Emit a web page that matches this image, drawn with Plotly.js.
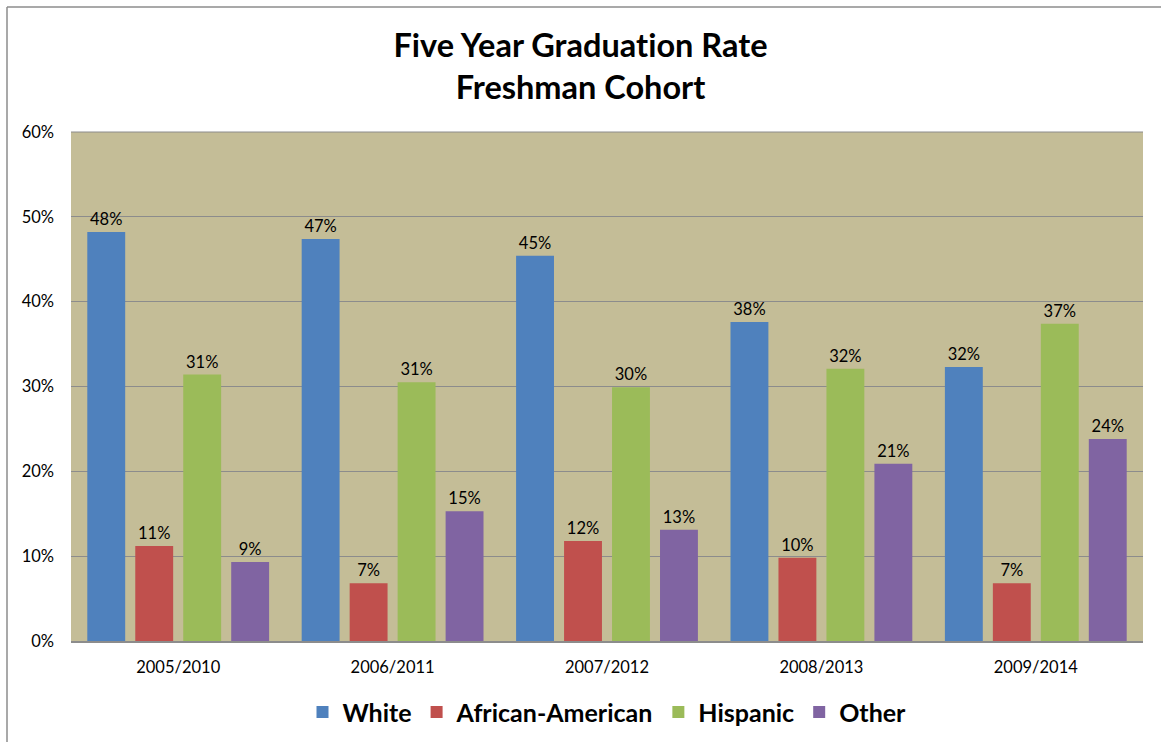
<!DOCTYPE html>
<html>
<head>
<meta charset="utf-8">
<script src="https://cdn.plot.ly/plotly-3.0.1.min.js"></script>
<style>html,body{margin:0;padding:0;background:#fff;}#chart{width:1161px;height:742px;} text{font-variant-ligatures:none !important;}</style>
</head>
<body>
<div id="chart"></div>
<script>
const cohorts = ['2005/2010', '2006/2011', '2007/2012', '2008/2013', '2009/2014'];
const white = [48.2, 47.4, 45.4, 37.6, 32.3];
const africanAmerican = [11.2, 6.8, 11.8, 9.8, 6.8];
const hispanic = [31.4, 30.5, 29.9, 32.1, 37.4];
const other = [9.3, 15.3, 13.1, 20.9, 23.8];
const seriesNames = ['White', 'African-American', 'Hispanic', 'Other'];
const yTickVals = [0, 10, 20, 30, 40, 50, 60];

const colors = ['#4F81BD', '#C0504D', '#9BBB59', '#8064A2'];
const seriesData = [white, africanAmerican, hispanic, other];
const FONT = 'Lato, "Open Sans", sans-serif';

const traces = seriesData.map((vals, i) => ({
  type: 'bar',
  name: seriesNames[i],
  x: cohorts,
  y: vals,
  text: vals.map(v => Math.round(v) + '%'),
  textposition: 'outside',
  textfont: {family: FONT, size: 16.5, color: '#000'},
  cliponaxis: false,
  marker: {color: colors[i]},
  hoverinfo: 'x+y+name'
}));

const layout = {
  width: 1161, height: 742,
  margin: {l: 71, r: 18, t: 132, b: 101},
  paper_bgcolor: '#ffffff',
  plot_bgcolor: '#C4BD97',
  barmode: 'group',
  bargap: 0.105,
  bargroupgap: 0.21,
  title: {
    text: '<b>Five Year Graduation Rate<br>Freshman Cohort</b>',
    font: {family: FONT, size: 32.5, color: '#000'},
    x: 0.5, xanchor: 'center',
    yref: 'container', y: 0.923, yanchor: 'top'
  },
  xaxis: {
    type: 'category',
    tickfont: {family: FONT, size: 16.5, color: '#000'},
    showgrid: false,
    showline: true, linecolor: '#8c8c8c', linewidth: 2,
    ticks: '', ticklen: 0,
    ticklabelstandoff: 10,
    automargin: false
  },
  yaxis: {
    range: [0, 60],
    tickvals: yTickVals,
    ticktext: yTickVals.map(v => v + '%'),
    tickfont: {family: FONT, size: 16.5, color: '#000'},
    showgrid: true, gridcolor: '#8c8c8c', gridwidth: 1,
    zeroline: false,
    showline: false,
    ticks: '',
    ticklabelstandoff: 16,
    automargin: false
  },
  legend: {
    orientation: 'h',
    x: 0.5, xanchor: 'center', xref: 'paper',
    yref: 'container', y: 0.04, yanchor: 'middle',
    font: {family: FONT, size: 25, color: '#000', weight: 'bold'},
    itemwidth: 30,
    traceorder: 'normal'
  },
  shapes: [
    {type: 'line', xref: 'paper', yref: 'paper', x0: -0.0597, x1: -0.0597, y0: -0.3, y1: 1.2456, line: {color: '#8c8c8c', width: 1.5}},
    {type: 'line', xref: 'paper', yref: 'paper', x0: -0.0597, x1: 1.05, y0: 1.2456, y1: 1.2456, line: {color: '#8c8c8c', width: 1.5}},
    {type: 'line', xref: 'paper', yref: 'paper', x0: 0, x1: 1, y0: 1, y1: 1, line: {color: '#8c8c8c', width: 1}}
  ],
  showlegend: true
};

Plotly.newPlot('chart', traces, layout, {displayModeBar: false, staticPlot: true});
</script>
</body>
</html>
